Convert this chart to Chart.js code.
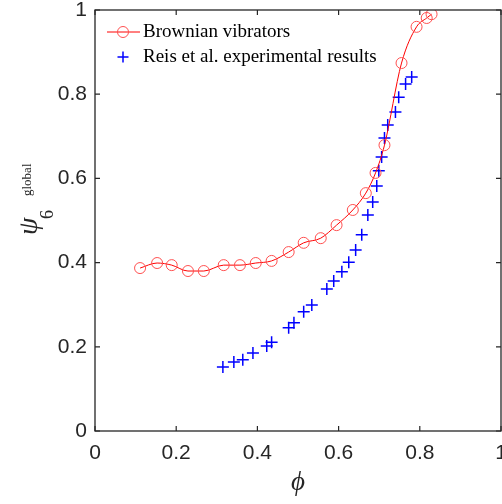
<!DOCTYPE html>
<html>
<head>
<meta charset="utf-8">
<script src="https://cdn.jsdelivr.net/npm/chart.js@4/dist/chart.umd.min.js"></script>
<style>
html,body{margin:0;padding:0;background:#fff;}
#wrap{width:502px;height:504px;position:relative;}
</style>
</head>
<body>
<div id="wrap"><canvas id="c" width="502" height="504"></canvas></div>
<script>
// ---- data ----
const brownX = [0.111,0.153,0.189,0.229,0.268,0.317,0.357,0.396,0.435,0.477,0.514,0.556,0.595,0.635,0.667,0.691,0.713,0.755,0.792,0.817,0.829];
const brownY = [0.387,0.399,0.394,0.380,0.380,0.394,0.394,0.399,0.404,0.425,0.447,0.458,0.489,0.525,0.565,0.613,0.679,0.874,0.960,0.981,0.990];
const reisX = [0.315,0.342,0.364,0.389,0.423,0.435,0.477,0.490,0.514,0.534,0.571,0.588,0.608,0.625,0.642,0.657,0.672,0.684,0.694,0.699,0.706,0.713,0.721,0.740,0.748,0.765,0.780];
const reisY = [0.152,0.164,0.169,0.185,0.202,0.211,0.245,0.257,0.283,0.299,0.337,0.356,0.378,0.401,0.430,0.466,0.513,0.544,0.582,0.618,0.651,0.696,0.727,0.758,0.793,0.824,0.841];
const xTicks = [0,0.2,0.4,0.6,0.8,1];
const yTicks = [0,0.2,0.4,0.6,0.8,1];
const xTickLabels = ['0','0.2','0.4','0.6','0.8','1'];
const yTickLabels = ['0','0.2','0.4','0.6','0.8','1'];
const legendLabels = ['Brownian vibrators','Reis et al. experimental results'];

const toPts = (xs, ys) => xs.map((x, i) => ({x: x, y: ys[i]}));

const axisColor = '#262626';

const decor = {
  id: 'decor',
  afterDraw(chart) {
    const ctx = chart.ctx, ca = chart.chartArea;
    const xs = chart.scales.x, ys = chart.scales.y;
    ctx.save();
    // frame
    ctx.strokeStyle = axisColor;
    ctx.lineWidth = 1.3;
    ctx.strokeRect(ca.left, ca.top, ca.right - ca.left, ca.bottom - ca.top);
    // ticks
    const tl = 5;
    ctx.lineWidth = 1.2;
    ctx.beginPath();
    xTicks.forEach(v => {
      const px = xs.getPixelForValue(v);
      ctx.moveTo(px, ca.bottom); ctx.lineTo(px, ca.bottom - tl);
      ctx.moveTo(px, ca.top); ctx.lineTo(px, ca.top + tl);
    });
    yTicks.forEach(v => {
      const py = ys.getPixelForValue(v);
      ctx.moveTo(ca.left, py); ctx.lineTo(ca.left + tl, py);
      ctx.moveTo(ca.right, py); ctx.lineTo(ca.right - tl, py);
    });
    ctx.stroke();
    // tick labels
    ctx.fillStyle = axisColor;
    ctx.font = '21px "Liberation Sans", Arial, sans-serif';
    ctx.textAlign = 'center';
    ctx.textBaseline = 'middle';
    xTicks.forEach((v, i) => {
      ctx.fillText(xTickLabels[i], xs.getPixelForValue(v), ca.bottom + 22);
    });
    ctx.textAlign = 'right';
    yTicks.forEach((v, i) => {
      ctx.fillText(yTickLabels[i], ca.left - 8, ys.getPixelForValue(v));
    });
    // x title
    ctx.textAlign = 'center';
    ctx.textBaseline = 'alphabetic';
    ctx.font = 'italic 27px "Liberation Serif", "Times New Roman", serif';
    ctx.fillText('\u03D5', 298, 490);
    // y title (rotated)
    ctx.save();
    ctx.rotate(-Math.PI / 2);
    ctx.textAlign = 'left';
    ctx.font = 'italic 28px "Liberation Serif", "Times New Roman", serif';
    ctx.fillText('\u03C8', -235, 37);
    ctx.font = '18px "Liberation Serif", "Times New Roman", serif';
    ctx.fillText('6', -219, 53);
    ctx.font = '13px "Liberation Serif", "Times New Roman", serif';
    ctx.fillText('global', -196, 31);
    ctx.restore();
    // legend
    ctx.font = '19px "Liberation Serif", "Times New Roman", serif';
    ctx.fillStyle = '#000';
    ctx.textAlign = 'left';
    ctx.textBaseline = 'middle';
    const y1 = 32, y2 = 57;
    ctx.strokeStyle = '#ff0000';
    ctx.lineWidth = 1;
    ctx.beginPath(); ctx.moveTo(107, y1); ctx.lineTo(140, y1); ctx.stroke();
    ctx.strokeStyle = '#ff5050';
    ctx.beginPath(); ctx.arc(123, y1, 5.5, 0, Math.PI * 2); ctx.stroke();
    ctx.fillText(legendLabels[0], 143, y1);
    ctx.strokeStyle = '#0000ff';
    ctx.lineWidth = 1.5;
    ctx.beginPath();
    ctx.moveTo(117.5, y2); ctx.lineTo(128.5, y2);
    ctx.moveTo(123, y2 - 5.5); ctx.lineTo(123, y2 + 5.5);
    ctx.stroke();
    ctx.fillText(legendLabels[1], 143, y2);
    ctx.restore();
  }
};

new Chart(document.getElementById('c'), {
  type: 'scatter',
  data: {
    datasets: [
      {
        label: legendLabels[0],
        data: toPts(brownX, brownY),
        showLine: true,
        borderColor: '#ff0000',
        borderWidth: 1,
        cubicInterpolationMode: 'monotone',
        pointStyle: 'circle',
        pointRadius: 5.5,
        pointBorderColor: '#ff5050',
        pointBackgroundColor: 'rgba(0,0,0,0)',
        pointBorderWidth: 1
      },
      {
        label: legendLabels[1],
        data: toPts(reisX, reisY),
        showLine: false,
        pointStyle: 'cross',
        pointRadius: 6,
        pointBorderColor: '#0000ff',
        pointBorderWidth: 1.5
      }
    ]
  },
  options: {
    responsive: false,
    animation: false,
    layout: { autoPadding: false, padding: { left: 95, right: 1, top: 10, bottom: 73 } },
    scales: {
      x: { type: 'linear', min: 0, max: 1, display: false },
      y: { type: 'linear', min: 0, max: 1, display: false }
    },
    plugins: { legend: { display: false }, tooltip: { enabled: false } }
  },
  plugins: [decor]
});
</script>
</body>
</html>
